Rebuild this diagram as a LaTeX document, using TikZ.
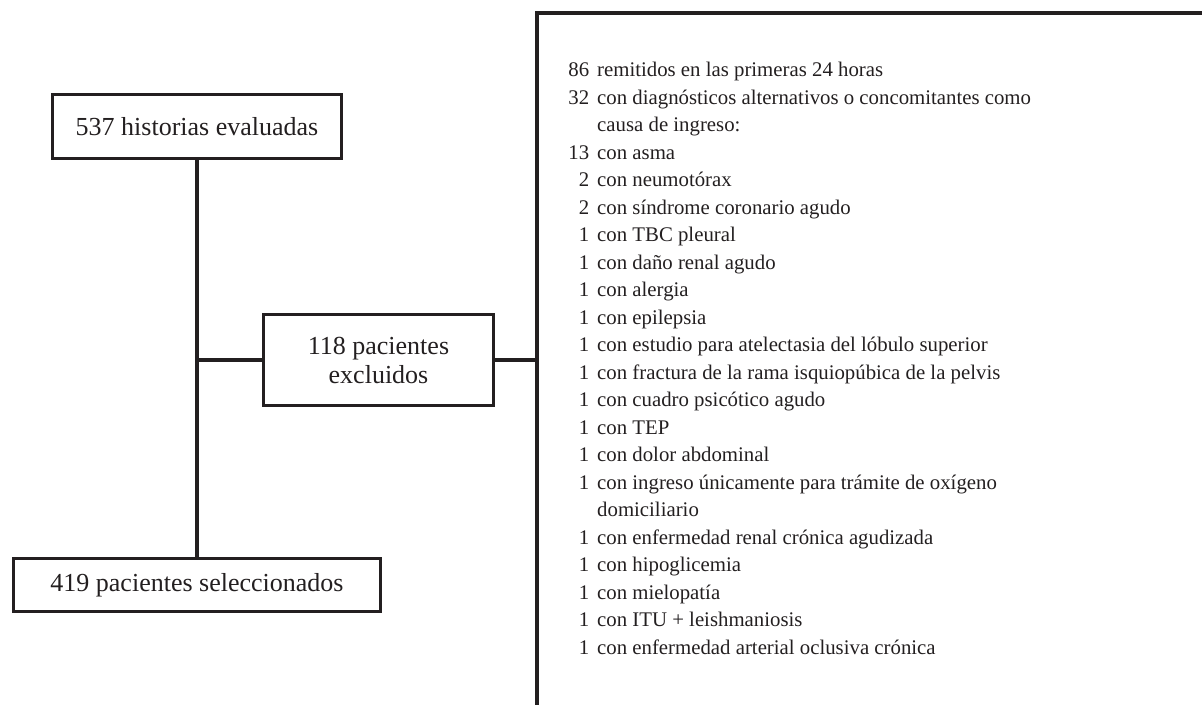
\documentclass[tikz,border=0pt]{standalone}
\usepackage{fontspec}
\setmainfont{Liberation Serif}
\usepackage{tikz}
\usetikzlibrary{calc}
\definecolor{tinta}{RGB}{35,31,32}
\tikzset{caja/.style={draw=tinta,line width=1.7pt,inner sep=0pt,align=center,text=tinta,font=\fontsize{13pt}{14.5pt}\selectfont},
  linea/.style={draw=tinta,line width=1.7pt}}

\begin{document}
\begin{tikzpicture}[x=0.5pt,y=-0.5pt]
    \useasboundingbox (0,0) rectangle (1202,705);
    \clip (0,0) rectangle (1202,705);
      \node[caja,minimum width=144.5pt,minimum height=32pt] (hist) at (197,126.5) {537 historias evaluadas};
      \node[caja,minimum width=115pt,minimum height=45.5pt] (excl) at (378.5,360) {118 pacientes\\excluidos};
      \node[caja,minimum width=183.5pt,minimum height=26.5pt] (sel) at (197,585) {419 pacientes seleccionados};
      \coordinate (brtop) at (537,13);
      \coordinate (brbot) at (537,720);
      \coordinate (brend) at (1220,13);
      \draw[linea] (hist.south) -- (sel.north);
      \draw[linea] (excl.west) -- (excl.west -| hist.south);
      \draw[linea] (excl.east) -- (excl.east -| brtop);
      \draw[linea] (brend) -- (brtop) -- (brbot);
      \node[anchor=base west,inner sep=0pt,text=tinta,font=\fontsize{10.4pt}{13.75pt}\selectfont] (lista) at (568,77) {%
        \begin{tabular}[t]{@{}r@{\hspace{4pt}}l@{}}
        86 & remitidos en las primeras 24 horas\\
        32 & con diagnósticos alternativos o concomitantes como\\
           & causa de ingreso:\\
        13 & con asma\\
        2 & con neumotórax\\
        2 & con síndrome coronario agudo\\
        1 & con TBC pleural\\
        1 & con daño renal agudo\\
        1 & con alergia\\
        1 & con epilepsia\\
        1 & con estudio para atelectasia del lóbulo superior\\
        1 & con fractura de la rama isquiopúbica de la pelvis\\
        1 & con cuadro psicótico agudo\\
        1 & con TEP\\
        1 & con dolor abdominal\\
        1 & con ingreso únicamente para trámite de oxígeno\\
          & domiciliario\\
        1 & con enfermedad renal crónica agudizada\\
        1 & con hipoglicemia\\
        1 & con mielopatía\\
        1 & con ITU + leishmaniosis\\
        1 & con enfermedad arterial oclusiva crónica
        \end{tabular}};
\end{tikzpicture}
\end{document}
